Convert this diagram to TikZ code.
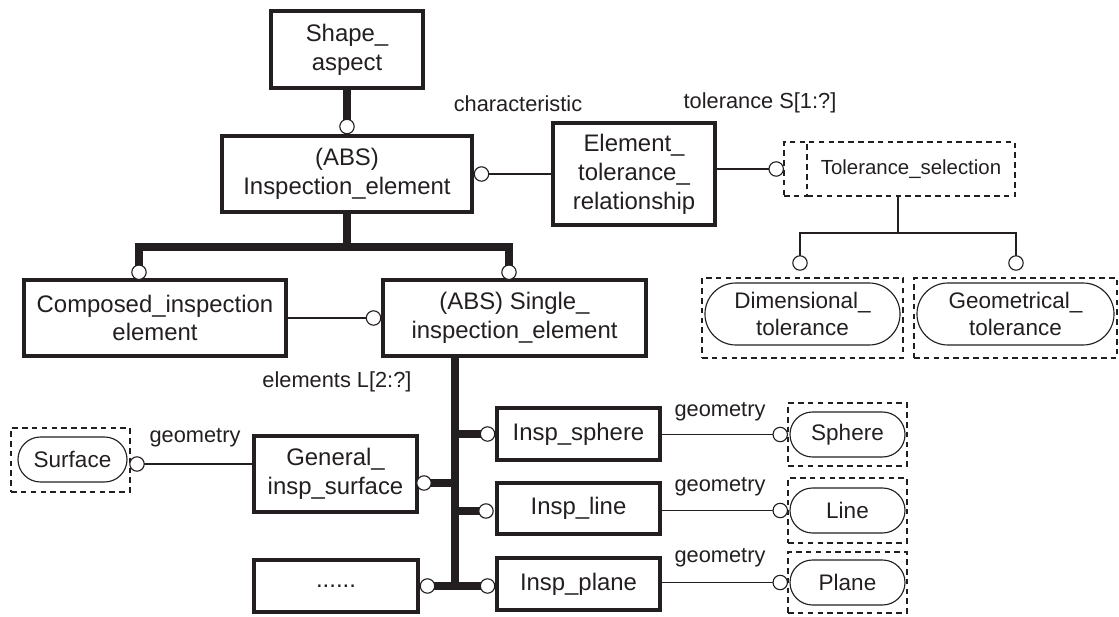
\documentclass[tikz,border=0pt]{standalone}
\usepackage{fontspec}
\setmainfont{Liberation Sans}
\usetikzlibrary{shapes.misc,backgrounds}
\definecolor{ink}{RGB}{35,31,32}
\begin{document}
\begin{tikzpicture}[x=0.025cm,y=-0.025cm,
  entity/.style={draw=ink, text=ink, line width=2.4pt, fill=white, align=center,
    inner sep=0pt, font=\fontsize{17}{20.5}\selectfont},
  selbox/.style={draw=ink, line width=0.9pt, dash pattern=on 4pt off 3pt,
    inner sep=0pt, outer sep=0pt},
  pill/.style={rounded rectangle, draw=ink, text=ink, line width=0.8pt, align=center,
    inner sep=0pt, font=\fontsize{16}{19.5}\selectfont},
  oc/.style={circle, draw=ink, fill=white, line width=0.8pt, minimum size=0.36cm,
    inner sep=0pt},
  rel/.style={draw=ink, line width=0.8pt},
  sub/.style={draw=ink, line width=5.5pt, line join=miter},
  lbl/.style={text=ink, inner sep=0pt, font=\fontsize{15.5}{18}\selectfont},
]
\useasboundingbox (0,0) rectangle (1119,617);

% entity boxes
\node[entity, minimum width=3.8cm,   minimum height=1.925cm] (shape)  at (347,49.5)  {Shape\_\\aspect};
\node[entity, minimum width=6.25cm,  minimum height=1.9cm]   (insp)   at (347,174)   {(ABS)\\Inspection\_element};
\node[entity, minimum width=4.05cm,  minimum height=2.55cm]  (etr)    at (634,174)   {Element\_\\tolerance\_\\relationship};
\node[entity, minimum width=6.55cm,  minimum height=1.9cm]   (comp)   at (155,318)   {Composed\_inspection\\element};
\node[entity, minimum width=6.575cm, minimum height=1.9cm]   (single) at (514.5,318) {(ABS) Single\_\\inspection\_element};
\node[entity, minimum width=4.075cm, minimum height=1.9cm]   (gen)    at (335.5,474) {General\_\\insp\_surface};
\node[entity, minimum width=4.1cm,   minimum height=1.3cm]   (dots)   at (336,586)   {......};
\node[entity, minimum width=4.075cm, minimum height=1.3cm]   (sph)    at (578.5,434) {Insp\_sphere};
\node[entity, minimum width=4.075cm, minimum height=1.275cm] (lin)    at (578.5,508.5) {Insp\_line};
\node[entity, minimum width=4.075cm, minimum height=1.3cm]   (pla)    at (578.5,584) {Insp\_plane};

% select types
\node[selbox, minimum width=5.2cm, minimum height=1.35cm, text=ink,
      font=\fontsize{14.5}{17}\selectfont] (tolsel) at (911,169) {Tolerance\_selection};
\node[selbox, minimum width=0.575cm, minimum height=1.35cm, anchor=east] (tolstrip) at (tolsel.west) {};

% defined types inside dashed frames
\node[selbox, minimum width=2.975cm, minimum height=1.6cm]   (surfbox) at (70.5,460) {};
\node[pill, minimum width=2.725cm, minimum height=1.125cm]   (surf)    at (72.5,459.5) {Surface};
\node[selbox, minimum width=2.975cm, minimum height=1.575cm] (sphbox)  at (847.5,434.5) {};
\node[pill, minimum width=2.875cm, minimum height=1.125cm]   (sphere)  at (847.5,434.5) {Sphere};
\node[selbox, minimum width=2.975cm, minimum height=1.625cm] (linbox)  at (847.5,510.5) {};
\node[pill, minimum width=2.875cm, minimum height=1.125cm]   (line)    at (847.5,510.5) {Line};
\node[selbox, minimum width=2.975cm, minimum height=1.525cm] (plabox)  at (847.5,582.5) {};
\node[pill, minimum width=2.875cm, minimum height=1.125cm]   (plane)   at (847.5,582.5) {Plane};
\node[selbox, minimum width=5.025cm, minimum height=2.0cm]   (dimbox)  at (802.5,318) {};
\node[pill, minimum width=4.875cm, minimum height=1.55cm]    (dim)     at (802.5,314) {Dimensional\_\\tolerance};
\node[selbox, minimum width=5.075cm, minimum height=2.0cm]   (geobox)  at (1015.5,318) {};
\node[pill, minimum width=4.925cm, minimum height=1.55cm]    (geo)     at (1015.5,314) {Geometrical\_\\tolerance};

% relationship end circles
\node[oc, anchor=south] (c1)   at (insp.north) {};
\node[oc, anchor=west]  (c2)   at (insp.east) {};
\node[oc, anchor=east]  (c3)   at (tolstrip.west) {};
\node[oc]               (cd)   at (800,263) {};
\node[oc]               (cg)   at (1016,263) {};
\node[oc, anchor=south] (ca)   at (139,280) {};
\node[oc, anchor=south] (cb)   at (509,280) {};
\node[oc, anchor=east]  (cc)   at (single.west) {};
\node[oc, anchor=east]  (csph) at (sph.west) {};
\node[oc]               (cgen) at (424,483) {};
\node[oc]               (clin) at (486,511) {};
\node[oc, anchor=west]  (cdots) at (dots.east) {};
\node[oc, anchor=east]  (cpla) at (pla.west |- cdots) {};
\node[oc]               (cs)   at (137,464) {};
\node[oc, anchor=east]  (csp2) at (sphbox.west) {};
\node[oc, anchor=east]  (cl2)  at (linbox.west) {};
\node[oc, anchor=east]  (cp2)  at (plabox.west) {};

% role labels
\node[lbl] (lchar) at (518,104) {characteristic};
\node[lbl] (ltol)  at (760,103) {tolerance S[1:?]};
\node[lbl] (lelem) at (337,382) {elements L[2:?]};
\node[lbl] (lg1)   at (195,438) {geometry};
\node[lbl] (lg2)   at (720,412) {geometry};
\node[lbl] (lg3)   at (720,487) {geometry};
\node[lbl] (lg4)   at (720,558) {geometry};

\coordinate (ij) at (347,247);
\coordinate (tj) at (898,233);
\coordinate (bb) at (455,586);

\begin{pgfonlayer}{background}
  % supertype / subtype trees
  \draw[sub] (shape.south) -- (c1.center);
  \draw[sub] (insp.south) -- (insp.south |- ij);
  \draw[sub] (ca.center) |- (ij) -| (cb.center);
  \draw[sub] (single.south -| bb) -- ([yshift=-2.75pt]bb);
  \draw[sub] (csph.center) -- (csph -| bb);
  \draw[sub] (cgen.center) -- (cgen -| bb);
  \draw[sub] (clin.center) -- (clin -| bb);
  \draw[sub] (cdots.center) -- (cpla.center);
  % attributes
  \draw[rel] (c2.center) -- (etr.west);
  \draw[rel] (c3.center) -- (c3 -| etr.east);
  \draw[rel] (cc.center) -- (comp.east);
  \draw[rel] (tj) -- (tj |- tolsel.south);
  \draw[rel] (cd.center) |- (tj) -| (cg.center);
  \draw[rel] (cs.center) -- (cs -| gen.west);
  \draw[rel] (csp2.center) -- (csp2 -| sph.east);
  \draw[rel] (cl2.center) -- (cl2 -| lin.east);
  \draw[rel] (cp2.center) -- (cp2 -| pla.east);
\end{pgfonlayer}
\end{tikzpicture}
\end{document}
